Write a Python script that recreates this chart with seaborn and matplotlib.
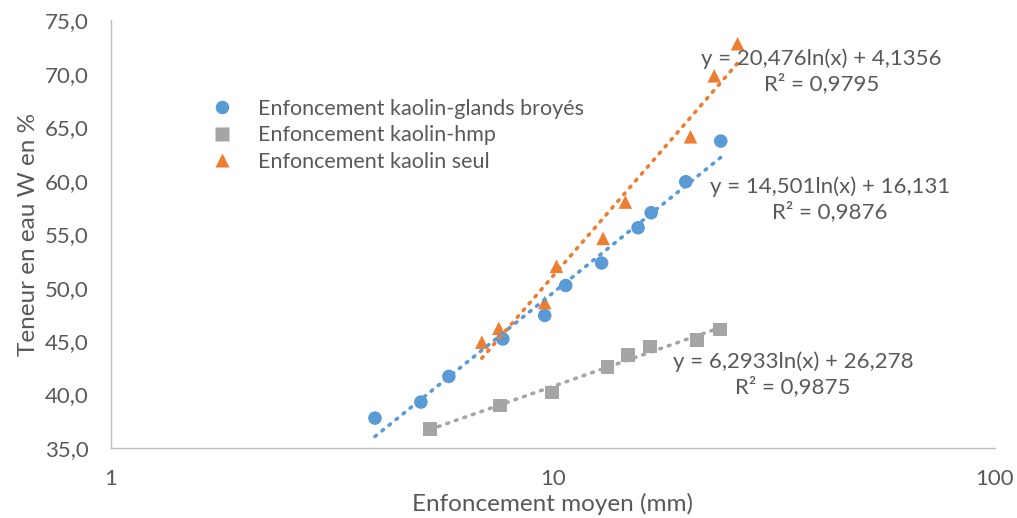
#!/usr/bin/env python3
"""Water content vs mean penetration (log x), three kaolin mixes with log trendlines."""

import numpy as np
import pandas as pd
import seaborn as sns
import matplotlib.pyplot as plt
from matplotlib.ticker import FuncFormatter, FixedLocator, NullLocator

# --- data ------------------------------------------------------------------
glands_x = [3.96, 5.03, 5.82, 7.71, 9.59, 10.7, 12.9, 15.6, 16.7, 20.0, 24.0]
glands_y = [37.8, 39.3, 41.7, 45.2, 47.4, 50.2, 52.3, 55.6, 57.0, 59.9, 63.7]

hmp_x = [5.27, 7.59, 9.95, 13.3, 14.8, 16.6, 21.2, 23.9]
hmp_y = [36.8, 39.0, 40.2, 42.6, 43.7, 44.5, 45.1, 46.1]

seul_x = [6.91, 7.55, 9.59, 10.2, 13.0, 14.6, 20.5, 23.2, 26.2]
seul_y = [44.9, 46.2, 48.6, 52.0, 54.6, 58.0, 64.1, 69.8, 72.8]

series_names = [
    "Enfoncement kaolin-glands broyés",
    "Enfoncement kaolin-hmp",
    "Enfoncement kaolin seul",
]
equations = [
    "y = 14,501ln(x) + 16,131\nR² = 0,9876",
    "y = 6,2933ln(x) + 26,278\nR² = 0,9875",
    "y = 20,476ln(x) + 4,1356\nR² = 0,9795",
]
eq_pos = [(42.4, 58.3), (35.0, 41.9), (40.6, 70.2)]

COLORS = ["#5B9BD5", "#A5A5A5", "#ED7D31"]
MARKERS = ["o", "s", "^"]
TEXT = "#595959"

df = pd.concat(
    [
        pd.DataFrame({"x": glands_x, "y": glands_y, "serie": series_names[0]}),
        pd.DataFrame({"x": hmp_x, "y": hmp_y, "serie": series_names[1]}),
        pd.DataFrame({"x": seul_x, "y": seul_y, "serie": series_names[2]}),
    ],
    ignore_index=True,
)

sns.set_theme(style="white")
plt.rcParams["font.family"] = ["Lato", "DejaVu Sans"]

fig = plt.figure(figsize=(10.17, 5.18), dpi=100)
ax = fig.add_axes([0.109, 0.135, 0.869, 0.826])
ax.set_xscale("log")

sns.scatterplot(
    data=df, x="x", y="y", hue="serie", style="serie",
    palette=COLORS, markers=MARKERS, hue_order=series_names, style_order=series_names,
    s=95, edgecolor="none", ax=ax, zorder=2,
)

for name, col in zip(series_names, COLORS):
    sub = df[df["serie"] == name]
    sns.regplot(
        data=sub, x="x", y="y", logx=True, scatter=False, ci=None, ax=ax,
        line_kws=dict(color=col, linestyle=(0, (0.5, 2.0)), linewidth=2.6,
                      dash_capstyle="round", zorder=3),
    )

for txt, (px, py) in zip(equations, eq_pos):
    ax.text(px, py, txt, ha="center", va="center", fontsize=16,
            color=TEXT, linespacing=1.25)

ax.set_xlim(1, 100)
ax.set_ylim(35, 75)
ax.xaxis.set_major_locator(FixedLocator([1, 10, 100]))
ax.xaxis.set_minor_locator(NullLocator())
ax.xaxis.set_major_formatter(FuncFormatter(lambda v, p: f"{v:g}"))
ax.set_yticks(np.arange(35, 76, 5))
ax.yaxis.set_major_formatter(FuncFormatter(lambda v, p: f"{v:.1f}".replace(".", ",")))
ax.tick_params(axis="both", length=0, labelsize=16, colors=TEXT)
ax.tick_params(axis="x", pad=15)
ax.tick_params(axis="y", pad=16)

for side in ["top", "right"]:
    ax.spines[side].set_visible(False)
for side in ["left", "bottom"]:
    ax.spines[side].set_color("#BFBFBF")
    ax.spines[side].set_linewidth(1.0)

ax.set_xlabel("Enfoncement moyen (mm)", fontsize=17.5, color=TEXT, labelpad=3)
ax.set_ylabel("Teneur en eau W en %", fontsize=17.5, color=TEXT, labelpad=4)

leg = ax.legend(
    loc="upper left", bbox_to_anchor=(0.08, 0.862), frameon=False,
    fontsize=15.5, handletextpad=0.65, labelspacing=0.3, title=None,
)
for t in leg.get_texts():
    t.set_color(TEXT)

fig.savefig("out.png", dpi=100)
